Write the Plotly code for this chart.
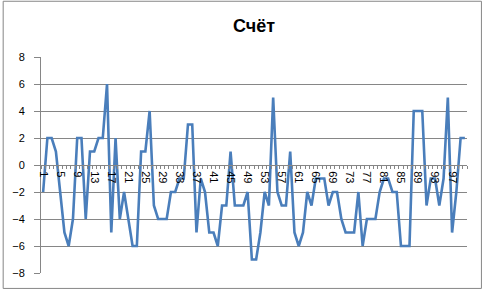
import plotly.graph_objects as go

# ---- data ----
categories = list(range(1, 101))
scores = [
    -2, 2, 2, 1, -2, -5, -6, -4, 2, 2,
    -4, 1, 1, 2, 2, 6, -5, 2, -4, -2,
    -4, -6, -6, 1, 1, 4, -3, -4, -4, -4,
    -2, -2, -1, -1, 3, 3, -5, -1, -2, -5,
    -5, -6, -3, -3, 1, -3, -3, -3, -2, -7,
    -7, -5, -2, -3, 5, -2, -3, -3, 1, -5,
    -6, -5, -2, -3, -1, -1, -1, -3, -2, -2,
    -4, -5, -5, -5, -2, -6, -4, -4, -4, -2,
    -1, -1, -2, -2, -6, -6, -6, 4, 4, 4,
    -3, -1, -1, -3, -1, 5, -5, -2, 2, 2,
]
x_tick_values = list(range(1, 101, 4))
x_tick_labels = [str(v) for v in x_tick_values]
y_tick_values = list(range(-8, 9, 2))
title_text = "Счёт"

W, H = 483, 291
ML, MR, MT, MB = 39, 16, 57, 17
pw, ph = W - ML - MR, H - MT - MB

def px_to_paper_x(p):
    return (p - ML) / pw

def px_to_paper_y(p):
    return (H - MB - p) / ph

grid = "#868686"

fig = go.Figure()
fig.add_trace(go.Scatter(
    x=categories, y=scores, mode="lines",
    line=dict(color="#4A7EBB", width=2.6),
    showlegend=False, hoverinfo="skip",
))

fig.update_layout(
    width=W, height=H,
    margin=dict(l=ML, r=MR, t=MT, b=MB),
    paper_bgcolor="white", plot_bgcolor="white",
    font=dict(family="Liberation Sans, Arial, sans-serif", color="black", size=11),
    title=dict(text="<b>" + title_text + "</b>", x=0.5, xref="paper", xanchor="center",
               y=1 - 26 / H, yref="container", yanchor="middle",
               font=dict(size=18, color="black")),
    xaxis=dict(
        type="linear", range=[0.5, 100.5],
        tickmode="array", tickvals=x_tick_values, ticktext=x_tick_labels,
        tickangle=90, ticks="", ticklabelstandoff=3,
        tickfont=dict(size=11, color="black"),
        minor=dict(ticks="outside", ticklen=3, tickcolor=grid, tickwidth=1,
                   tick0=0.5, dtick=1, showgrid=False),
        showline=True, linecolor=grid, linewidth=1,
        showgrid=False, zeroline=False,
        anchor="free", position=0.5,
    ),
    yaxis=dict(
        range=[-8, 8], tickmode="array", tickvals=y_tick_values,
        ticks="outside", ticklen=6, tickcolor=grid, tickwidth=1,
        showline=True, linecolor=grid, linewidth=1,
        showgrid=True, gridcolor=grid, gridwidth=1,
        zeroline=False, tickfont=dict(size=11, color="black"),
        ticklabelstandoff=7,
    ),
    shapes=[dict(
        type="rect", xref="paper", yref="paper",
        x0=px_to_paper_x(1), x1=px_to_paper_x(481.5),
        y0=px_to_paper_y(289.5), y1=px_to_paper_y(1),
        line=dict(color=grid, width=1), fillcolor="rgba(0,0,0,0)", layer="below",
    )],
)

fig.write_html("out.html")
